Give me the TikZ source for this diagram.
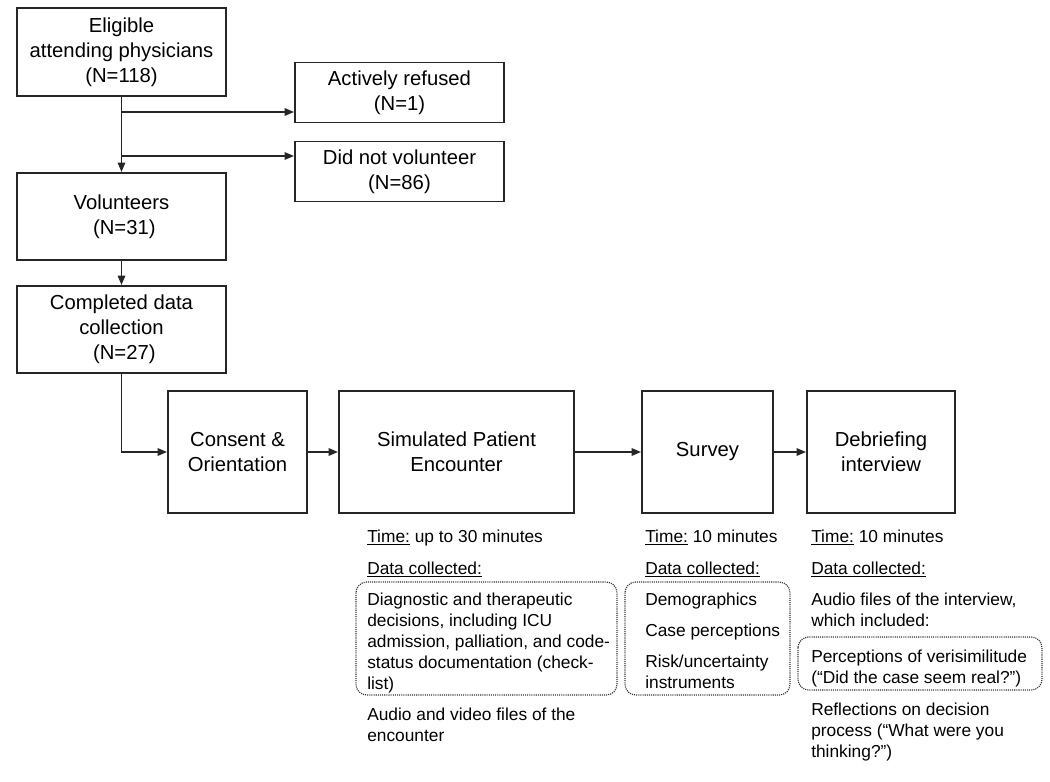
\documentclass[tikz,border=0pt]{standalone}
\usepackage{fontspec}
\setmainfont{Liberation Sans}
\usetikzlibrary{arrows.meta,calc}
\newcommand{\mlines}[1]{\begin{tabular}[t]{@{}l@{}}#1\end{tabular}}
\begin{document}
\begin{tikzpicture}[x=0.75pt,y=-0.75pt,
  box/.style={draw=black!85, line width=1.4pt, rectangle, inner sep=0pt, align=center,
    font=\fontsize{15.2}{18.6}\selectfont},
  arr/.style={line width=1.3pt, draw=black!85, -{Triangle[length=7pt,width=5.5pt]}},
  info/.style={anchor=base west, inner sep=0pt, font=\fontsize{13}{15.75}\selectfont},
  dotbox/.style={draw=black!80, line width=0.9pt, dash pattern=on 0.8pt off 0.8pt, rounded corners=8pt}]
\useasboundingbox (0,0) rectangle (1050,782);

% left column boxes
\node[box, minimum width=209*0.75pt, minimum height=88*0.75pt] (elig) at (121.5,52) {Eligible\\attending physicians\\(N=118)};
\node[box, minimum width=209*0.75pt, minimum height=60*0.75pt] (refused) at (399.5,92.5) {Actively refused\\(N=1)};
\node[box, minimum width=209*0.75pt, minimum height=60*0.75pt] (notvol) at (399.5,171.5) {Did not volunteer\\(N=86)};
\node[box, minimum width=209*0.75pt, minimum height=87*0.75pt] (vol) at (121.5,216.5) {Volunteers\\\hspace*{0.28em}(N=31)};
\node[box, minimum width=209*0.75pt, minimum height=87*0.75pt] (comp) at (121.5,329.5) {Completed data\\collection\\\hspace*{0.28em}(N=27)};

% process boxes
\node[box, minimum width=139*0.75pt, minimum height=122*0.75pt] (consent) at (237.5,452) {Consent \&\\Orientation};
\node[box, minimum width=235*0.75pt, minimum height=122*0.75pt] (sim) at (456.5,452) {Simulated Patient\\Encounter};
\node[box, minimum width=131*0.75pt, minimum height=122*0.75pt] (survey) at (707.5,452) {Survey};
\node[box, minimum width=148*0.75pt, minimum height=122*0.75pt] (debrief) at (881,452) {Debriefing\\interview};

% connectors
\coordinate (b1) at (121.5,112);
\coordinate (b2) at (121.5,156);
\draw[arr] (elig.south) -- (vol.north);
\draw[arr] (b1) -- (b1 -| refused.west);
\draw[arr] (b2) -- (b2 -| notvol.west);
\draw[arr] (vol.south) -- (comp.north);
\draw[arr] (comp.south) |- (consent.west);
\draw[arr] (consent.east) -- (sim.west);
\draw[arr] (sim.east) -- (survey.west);
\draw[arr] (survey.east) -- (debrief.west);

% dotted groups
\draw[dotbox] (356,582) rectangle (617,695);
\draw[dotbox] (625,582) rectangle (790,695);
\draw[dotbox] (798,637) rectangle (1042,690);

% column 1
\node[info] (t1) at (367,542) {\underline{Time:} up to 30 minutes};
\node[info] (d1) at (367,574) {\underline{Data collected:}};
\node[info] (c1a) at (367,605) {\mlines{Diagnostic and therapeutic\\decisions, including ICU\\admission, palliation, and code-\\status documentation (check-\\list)}};
\node[info] (c1b) at (367,720) {\mlines{Audio and video files of the\\encounter}};

% column 2
\node[info] (t2) at (645,542) {\underline{Time:} 10 minutes};
\node[info] (d2) at (645,574) {\underline{Data collected:}};
\node[info] (c2a) at (645,605) {Demographics};
\node[info] (c2b) at (645,636) {Case perceptions};
\node[info] (c2c) at (645,667) {\mlines{Risk/uncertainty\\instruments}};

% column 3
\node[info] (t3) at (811,542) {\underline{Time:} 10 minutes};
\node[info] (d3) at (811,574) {\underline{Data collected:}};
\node[info] (c3a) at (811,605) {\mlines{Audio files of the interview,\\which included:}};
\node[info] (c3b) at (811,662) {\mlines{Perceptions of verisimilitude\\(“Did the case seem real?”)}};
\node[info] (c3c) at (811,715) {\mlines{Reflections on decision\\process (“What were you\\thinking?”)}};
\end{tikzpicture}
\end{document}
